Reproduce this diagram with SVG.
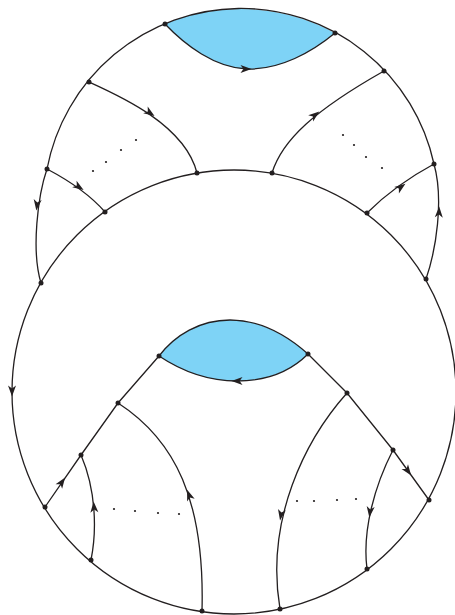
<svg xmlns="http://www.w3.org/2000/svg" xmlns:xlink="http://www.w3.org/1999/xlink" width="455" height="615" viewBox="0 0 455 615">
<style>
.e{fill:none;stroke:#231f20;stroke-width:1.3}
.v{fill:#231f20}
.d{fill:#231f20}
.blue{fill:#7ed3f6;stroke:none}
.ah{fill:#231f20;stroke:none}
</style>
<defs>
<path id="ah" d="M5.5,0 L-5.5,-4 L-2.6,0 L-5.5,4 Z"/>
</defs>
<rect width="455" height="615" fill="#ffffff"/>
<g id="regions">
<path class="blue" d="M165,24 A197.5,197.5 0 0 1 335,33 C312,52 280,70 247,69 C215,68 185,45 165,24 Z"/>
<path class="blue" d="M159,356 C175,335 200,320 230,320 C262,320 290,338 308,354 C290,372 265,381 237,381 C205,381 180,370 159,356 Z"/>
</g>
<g id="connectors">
<circle class="e" cx="234" cy="392" r="222"/>
<path class="e" d="M47,169 A197.5,197.5 0 0 1 434,164"/>
<path class="e" d="M165,24 C185,45 215,68 247,69 C280,70 312,52 335,33"/>
<path class="e" d="M47,169 C38,195 31,250 41,283"/>
<path class="e" d="M426,279 C436,250 444,200 434,164"/>
<path class="e" d="M89,82 C120,96 185,125 197,173"/>
<path class="e" d="M272,173 C282,140 315,110 384,71"/>
<path class="e" d="M47,169 Q85,189 105,212"/>
<path class="e" d="M367,213 Q395,185 434,164"/>
<path class="e" d="M159,356 C175,335 200,320 230,320 C262,320 290,338 308,354"/>
<path class="e" d="M159,356 C180,370 205,381 237,381 C265,381 290,372 308,354"/>
<path class="e" d="M159,356 L118,403 L81,455 L45,507"/>
<path class="e" d="M308,354 L347,393 L393,450 L429,500"/>
<path class="e" d="M118,403 C175,440 205,500 202,611"/>
<path class="e" d="M91,560 C97,530 96,490 81,455"/>
<path class="e" d="M347,393 C305,440 265,520 280,609"/>
<path class="e" d="M393,450 C375,485 362,530 367,569"/>
<g id="arrowheads">
<use xlink:href="#ah" class="ah" transform="translate(150,113) rotate(34)"/>
<use xlink:href="#ah" class="ah" transform="translate(315,115) rotate(-38)"/>
<use xlink:href="#ah" class="ah" transform="translate(79,187) rotate(33)"/>
<use xlink:href="#ah" class="ah" transform="translate(401,187) rotate(-36)"/>
<use xlink:href="#ah" class="ah" transform="translate(37,205) rotate(97)"/>
<use xlink:href="#ah" class="ah" transform="translate(439,212) rotate(-88)"/>
<use xlink:href="#ah" class="ah" transform="translate(246,69) rotate(0)"/>
<use xlink:href="#ah" class="ah" transform="translate(12,391) rotate(90)"/>
<use xlink:href="#ah" class="ah" transform="translate(237,381) rotate(180)"/>
<use xlink:href="#ah" class="ah" transform="translate(62,482) rotate(-55)"/>
<use xlink:href="#ah" class="ah" transform="translate(189,495) rotate(-110)"/>
<use xlink:href="#ah" class="ah" transform="translate(94,507) rotate(-94)"/>
<use xlink:href="#ah" class="ah" transform="translate(408,471) rotate(54)"/>
<use xlink:href="#ah" class="ah" transform="translate(281,515) rotate(100)"/>
<use xlink:href="#ah" class="ah" transform="translate(370,512) rotate(97)"/>
</g>
</g>
<g id="ellipsis-dots">
<circle class="d" cx="93" cy="171" r="1.1"/>
<circle class="d" cx="106" cy="162" r="1.1"/>
<circle class="d" cx="121" cy="150" r="1.1"/>
<circle class="d" cx="136" cy="140" r="1.1"/>
<circle class="d" cx="343" cy="135" r="1.1"/>
<circle class="d" cx="354" cy="145" r="1.1"/>
<circle class="d" cx="366" cy="157" r="1.1"/>
<circle class="d" cx="382" cy="168" r="1.1"/>
<circle class="d" cx="114" cy="509" r="1.1"/>
<circle class="d" cx="135" cy="511" r="1.1"/>
<circle class="d" cx="158" cy="513" r="1.1"/>
<circle class="d" cx="179" cy="514" r="1.1"/>
<circle class="d" cx="297" cy="501" r="1.1"/>
<circle class="d" cx="314" cy="501" r="1.1"/>
<circle class="d" cx="337" cy="500" r="1.1"/>
<circle class="d" cx="356" cy="499" r="1.1"/>
</g>
<g id="n1"><circle class="v" cx="165" cy="24" r="2.5"/></g>
<g id="n2"><circle class="v" cx="335" cy="33" r="2.5"/></g>
<g id="n3"><circle class="v" cx="89" cy="82" r="2.5"/></g>
<g id="n4"><circle class="v" cx="384" cy="71" r="2.5"/></g>
<g id="n5"><circle class="v" cx="47" cy="169" r="2.5"/></g>
<g id="n6"><circle class="v" cx="434" cy="164" r="2.5"/></g>
<g id="n7"><circle class="v" cx="197" cy="173" r="2.5"/></g>
<g id="n8"><circle class="v" cx="272" cy="173" r="2.5"/></g>
<g id="n9"><circle class="v" cx="105" cy="212" r="2.5"/></g>
<g id="n10"><circle class="v" cx="367" cy="213" r="2.5"/></g>
<g id="n11"><circle class="v" cx="41" cy="283" r="2.5"/></g>
<g id="n12"><circle class="v" cx="426" cy="279" r="2.5"/></g>
<g id="n13"><circle class="v" cx="159" cy="356" r="2.5"/></g>
<g id="n14"><circle class="v" cx="308" cy="354" r="2.5"/></g>
<g id="n15"><circle class="v" cx="118" cy="403" r="2.5"/></g>
<g id="n16"><circle class="v" cx="347" cy="393" r="2.5"/></g>
<g id="n17"><circle class="v" cx="81" cy="455" r="2.5"/></g>
<g id="n18"><circle class="v" cx="393" cy="450" r="2.5"/></g>
<g id="n19"><circle class="v" cx="45" cy="507" r="2.5"/></g>
<g id="n20"><circle class="v" cx="429" cy="500" r="2.5"/></g>
<g id="n21"><circle class="v" cx="91" cy="560" r="2.5"/></g>
<g id="n22"><circle class="v" cx="367" cy="569" r="2.5"/></g>
<g id="n23"><circle class="v" cx="202" cy="611" r="2.5"/></g>
<g id="n24"><circle class="v" cx="280" cy="609" r="2.5"/></g>
</svg>
